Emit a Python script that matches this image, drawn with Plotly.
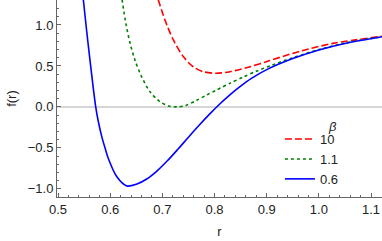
import plotly.graph_objects as go

# beta = 10 (red dashed)
r_b10 = [0.692, 0.705, 0.721, 0.740, 0.759, 0.778, 0.804, 0.8295, 0.868, 0.903, 0.964, 1.027, 1.121]
f_b10 = [1.31, 1.06, 0.817, 0.614, 0.49, 0.43, 0.41, 0.43, 0.49, 0.56, 0.68, 0.775, 0.862]

# beta = 1.1 (green dotted)
r_b11 = [0.6227, 0.630, 0.638, 0.648, 0.660, 0.676, 0.695, 0.712, 0.728, 0.745, 0.765, 0.785,
         0.805, 0.830, 0.855, 0.880, 0.910, 0.950, 1.000, 1.050, 1.121]
f_b11 = [1.31, 1.02, 0.78, 0.56, 0.37, 0.187, 0.065, 0.012, 0.0, 0.018, 0.078, 0.145,
         0.21, 0.29, 0.365, 0.435, 0.51, 0.60, 0.70, 0.78, 0.856]

# beta = 0.6 (blue solid)
r_b06 = [0.5485, 0.5536, 0.5625, 0.5722, 0.5766, 0.5837, 0.590, 0.5964, 0.6124, 0.6316, 0.650,
         0.670, 0.690, 0.710, 0.730, 0.750, 0.770, 0.790, 0.810, 0.830, 0.850, 0.870, 0.900,
         0.950, 1.000, 1.050, 1.121]
f_b06 = [1.31, 1.0, 0.5, 0.0, -0.16, -0.36, -0.5, -0.63, -0.85, -0.965, -0.945,
         -0.88, -0.78, -0.655, -0.515, -0.37, -0.228, -0.092, 0.035, 0.15, 0.253, 0.345, 0.455,
         0.59, 0.695, 0.775, 0.857]

series = [
    ("10", r_b10, f_b10, "#ff0000", "7px,3px"),
    ("1.1", r_b11, f_b11, "#008000", "dot"),
    ("0.6", r_b06, f_b06, "#0000ff", "solid"),
]

x_ticks = [0.5, 0.6, 0.7, 0.8, 0.9, 1.0, 1.1]
y_ticks = [-1.0, -0.5, 0.0, 0.5, 1.0]
legend_title = "β"

fig = go.Figure()
for name, xs, ys, col, dash in series:
    fig.add_trace(go.Scatter(
        x=xs, y=ys, mode="lines", name=name,
        line=dict(color=col, width=1.6, dash=dash, shape="spline", smoothing=0.8),
    ))

font_family = "Liberation Sans, Arial, sans-serif"
axis_col = "#666666"

fig.add_annotation(
    text=f"<i>{legend_title}</i>", xref="paper", yref="paper",
    x=0.849, y=0.36, xanchor="center", yanchor="middle",
    showarrow=False, font=dict(size=13, color="#222222"),
)

fig.update_layout(
    width=382, height=241,
    margin=dict(l=57, r=0, t=0, b=44),
    paper_bgcolor="white", plot_bgcolor="white",
    font=dict(family=font_family, size=13, color="#222222"),
    showlegend=True,
    legend=dict(
        x=0.686, y=0.37, xanchor="left", yanchor="top",
        bgcolor="rgba(0,0,0,0)", borderwidth=0,
        font=dict(size=13),
        itemwidth=30,
        tracegroupgap=0,
    ),
    xaxis=dict(
        range=[0.498, 1.121], automargin=False,
        tickvals=x_ticks, ticktext=[f"{v:.1f}" for v in x_ticks],
        showgrid=False, zeroline=False,
        showline=True, linecolor=axis_col, linewidth=1,
        ticks="inside", ticklen=4, tickcolor=axis_col, tickwidth=1,
        minor=dict(dtick=0.02, ticks="inside", ticklen=2, tickcolor=axis_col, showgrid=False),
        title=dict(text="r", standoff=11, font=dict(size=13)),
    ),
    yaxis=dict(
        range=[-1.1, 1.305], automargin=False,
        tickvals=y_ticks, ticktext=["−1.0", "−0.5", "0.0", "0.5", "1.0"],
        showgrid=False,
        zeroline=True, zerolinecolor="#d6d6d6", zerolinewidth=1.6,
        showline=True, linecolor=axis_col, linewidth=1,
        ticks="inside", ticklen=4, tickcolor=axis_col, tickwidth=1,
        minor=dict(dtick=0.1, ticks="inside", ticklen=2, tickcolor=axis_col, showgrid=False),
        title=dict(text="f(r)", standoff=8, font=dict(size=13)),
    ),
)

fig.write_html(
    "out.html",
    config={"displayModeBar": False},
    post_script="document.body.style.margin='0';document.body.style.padding='0';",
)
